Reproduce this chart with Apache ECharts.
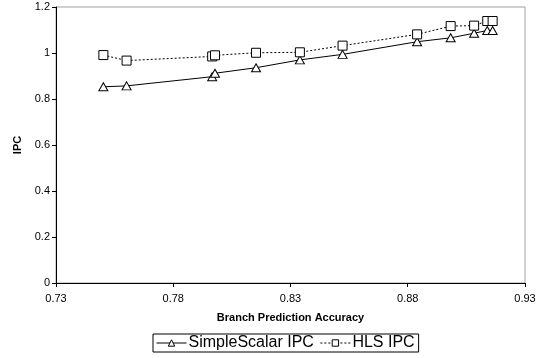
<!DOCTYPE html>
<html><head><meta charset="utf-8">
<script src="https://cdn.jsdelivr.net/npm/echarts@6/dist/echarts.min.js"></script>
<style>html,body{margin:0;padding:0;background:#fff}#c{width:546px;height:358px}</style>
</head><body><div id="c"></div>
<script>
const accuracy = [0.7502, 0.7601, 0.7966, 0.7978, 0.8153, 0.834, 0.8522, 0.884, 0.8983, 0.9083, 0.9139, 0.9162];
const simpleScalarIPC = [0.853, 0.857, 0.897, 0.912, 0.936, 0.970, 0.994, 1.049, 1.066, 1.086, 1.098, 1.098];
const hlsIPC = [0.991, 0.967, 0.985, 0.990, 1.001, 1.003, 1.032, 1.081, 1.117, 1.119, 1.139, 1.139];
const xTicks = [0.73, 0.78, 0.83, 0.88, 0.93];
const seriesNames = ['SimpleScalar IPC', 'HLS IPC'];

const font = 'Liberation Sans, Arial, sans-serif';
const hollow = {color: '#fff', borderColor: '#000', borderWidth: 1};
const chart = echarts.init(document.getElementById('c'));
chart.setOption({
  animation: false,
  grid: {left: 56, top: 7, right: 21, bottom: 75, show: true, borderColor: '#a0a0a0', borderWidth: 1},
  legend: {
    left: 153, top: 334, orient: 'horizontal',
    borderColor: '#000', borderWidth: 1, padding: [1, 4, 1, 3],
    itemWidth: 30, itemHeight: 8, itemGap: 6,
    textStyle: {fontFamily: font, fontSize: 16, color: '#000', padding: [0, 0, 0, -3]},
    itemStyle: hollow,
    lineStyle: {width: 1},
    data: seriesNames.map(n => ({name: n, itemStyle: hollow}))
  },
  xAxis: {
    type: 'value', min: 0.73, max: 0.93,
    name: 'Branch Prediction Accuracy', nameLocation: 'middle', nameGap: 29,
    nameTextStyle: {fontFamily: font, fontSize: 11, fontWeight: 'bold', color: '#000'},
    axisLine: {lineStyle: {color: '#000', width: 1}},
    axisTick: {show: true, length: 4, customValues: xTicks, lineStyle: {color: '#000'}},
    axisLabel: {customValues: xTicks, fontFamily: font, fontSize: 11, color: '#000', margin: 10,
      formatter: v => v.toFixed(2)},
    splitLine: {show: false}
  },
  yAxis: {
    type: 'value', min: 0, max: 1.2, interval: 0.2,
    name: 'IPC', nameLocation: 'middle', nameGap: 28, nameRotate: 90,
    nameTextStyle: {fontFamily: font, fontSize: 11, fontWeight: 'bold', color: '#000'},
    axisLine: {show: true, lineStyle: {color: '#000', width: 1}},
    axisTick: {show: true, length: 4, lineStyle: {color: '#000'}},
    axisLabel: {fontFamily: font, fontSize: 11, color: '#000', margin: 6,
      formatter: v => String(Math.round(v * 10) / 10)},
    splitLine: {show: false}
  },
  series: [
    {
      name: seriesNames[0], type: 'line',
      data: accuracy.map((x, i) => [x, simpleScalarIPC[i]]),
      symbol: 'triangle', symbolSize: [9, 8], showAllSymbol: true,
      lineStyle: {color: '#000', width: 1},
      itemStyle: hollow
    },
    {
      name: seriesNames[1], type: 'line',
      data: accuracy.map((x, i) => [x, hlsIPC[i]]),
      symbol: 'rect', symbolSize: 9, showAllSymbol: true,
      lineStyle: {color: '#000', width: 1, type: [2, 2]},
      itemStyle: hollow
    }
  ]
});
</script></body></html>
